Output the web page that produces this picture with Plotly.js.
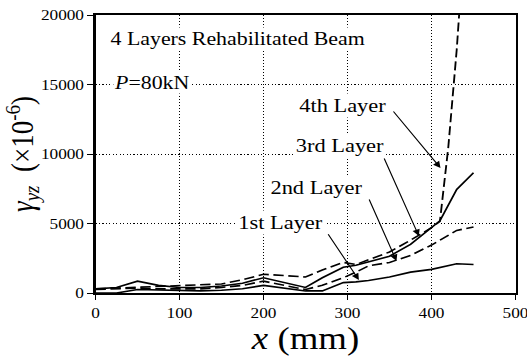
<!DOCTYPE html>
<html>
<head>
<meta charset="utf-8">
<script src="https://cdn.plot.ly/plotly-3.0.1.min.js"></script>
<style>
html,body{margin:0;padding:0;overflow:hidden;background:#fff;}
#wrap{width:458px;height:356px;transform:scaleX(1.1507);transform-origin:0 0;}
</style>
</head>
<body>
<div id="wrap"></div>
<script>
// positions along beam (mm)
const xPos = [0,25,50,75,100,125,150,175,200,225,250,270,295,310,325,350,375,400,410,430,450];
const layer1 = [0,0,250,200,150,150,200,300,550,350,150,150,750,800,900,1150,1500,1700,1850,2100,2050];
const layer2 = [250,300,350,300,300,300,400,550,850,550,250,550,1100,1500,1950,2200,2700,3450,3800,4500,4750];
const layer3 = [300,400,850,550,400,400,500,700,1100,750,400,1100,1850,2000,2250,2650,3500,4750,5200,7450,8650];
const xPos4 = [0,25,50,75,100,125,150,175,200,225,250,270,295,310,325,350,375,400,410,420,430,434];
const layer4 = [300,350,400,450,500,550,650,950,1350,1250,1150,1650,2200,2050,2400,2950,3800,4700,5150,10500,17500,21000];

const seriesNames = ['1st Layer','2nd Layer','3rd Layer','4th Layer'];
const xTicks = [0,100,200,300,400,500];
const yTicks = [0,5000,10000,15000,20000];

// label text positions [x, y] and arrow [tailX, tailY, headX, headY]
const labelPos = [[167,5108],[206,7626],[236,10600],[240,13475]];
const arrows = [[275.8,4338,313.5,935],[325,6835,358.3,2302],[342.9,9784,384.9,4101],[353.2,13165,410.7,8993]];

const F = 'Liberation Serif, Times New Roman, serif';
const dashPat = '9px,4px';

const traces = [
  {x:xPos, y:layer1, name:seriesNames[0], mode:'lines', line:{color:'#000', width:1.6}},
  {x:xPos, y:layer2, name:seriesNames[1], mode:'lines', line:{color:'#000', width:1.6, dash:dashPat}},
  {x:xPos, y:layer3, name:seriesNames[2], mode:'lines', line:{color:'#000', width:1.6}},
  {x:xPos4, y:layer4, name:seriesNames[3], mode:'lines', line:{color:'#000', width:1.6, dash:dashPat}}
];

const ann = [];
ann.push({x:16, y:18345, xref:'x', yref:'y', xanchor:'left', yanchor:'middle', showarrow:false,
  text:'4 Layers Rehabilitated Beam', font:{family:F, size:19, color:'#000'}, bgcolor:'#fff', borderpad:0});
ann.push({x:21, y:15150, xref:'x', yref:'y', xanchor:'left', yanchor:'middle', showarrow:false,
  text:'<i>P</i>=80kN', font:{family:F, size:19, color:'#000'}, bgcolor:'#fff', borderpad:0});
for (let i=0;i<4;i++){
  ann.push({x:labelPos[i][0], y:labelPos[i][1], xref:'x', yref:'y', xanchor:'left', yanchor:'middle', showarrow:false,
    text:seriesNames[i], font:{family:F, size:19.5, color:'#000'}, bgcolor:'#fff', borderpad:1});
  ann.push({x:arrows[i][2], y:arrows[i][3], ax:arrows[i][0], ay:arrows[i][1], xref:'x', yref:'y', axref:'x', ayref:'y',
    text:'', showarrow:true, arrowhead:2, arrowsize:1.3, arrowwidth:1, arrowcolor:'#000', standoff:0});
}

const axisCommon = {
  showline:true, linecolor:'#000', linewidth:2, mirror:true,
  ticks:'outside', ticklen:5, tickwidth:1, tickcolor:'#000',
  showgrid:true, gridcolor:'#000', gridwidth:1, griddash:'1px,2px',
  zeroline:false, ticklabeloverflow:'allow', tickfont:{family:F, size:15, color:'#000'}
};

const layout = {
  width:458, height:356,
  margin:{l:83, r:10, t:15, b:63},
  paper_bgcolor:'#fff', plot_bgcolor:'#fff',
  showlegend:false,
  xaxis: Object.assign({}, axisCommon, {range:[0,500], tickvals:xTicks, ticktext:xTicks.map(String),
    title:{text:'<i>x</i> (mm)', font:{family:F, size:32, color:'#000'}, standoff:4}}),
  yaxis: Object.assign({}, axisCommon, {range:[0,20000], tickvals:yTicks, ticktext:yTicks.map(String),
    title:{text:'<i>γ</i><sub><i>yz</i></sub>  (×10<sup>-6</sup>)', font:{family:F, size:27, color:'#000'}, standoff:6}}),
  annotations: ann
};

Plotly.newPlot('wrap', traces, layout, {staticPlot:true, displayModeBar:false});
</script>
</body>
</html>
